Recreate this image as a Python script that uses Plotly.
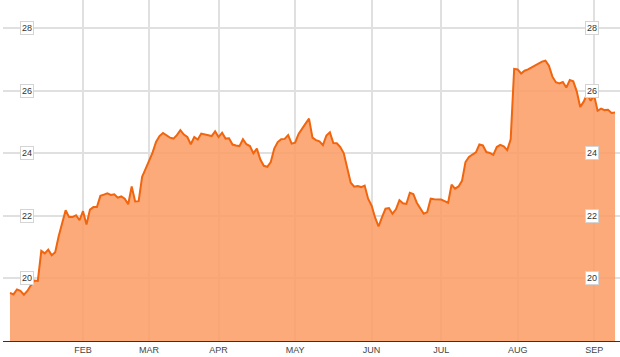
import pandas as pd
import plotly.graph_objects as go

# Trading days, 2 Jan 2013 – 11 Sep 2013 (NYSE holidays removed)
holidays = ["2013-01-21", "2013-02-18", "2013-03-29", "2013-05-27", "2013-07-04", "2013-09-02"]
dates = [d for d in pd.bdate_range("2013-01-02", "2013-09-11") if d.strftime("%Y-%m-%d") not in holidays]

prices = [
    19.54, 19.49, 19.65, 19.60, 19.48, 19.60, 19.78, 19.93, 19.92, 20.88,
    20.80, 20.92, 20.74, 20.84, 21.35, 21.75, 22.18, 21.96, 21.96, 22.02,
    21.86, 22.15, 21.72, 22.20, 22.28, 22.28, 22.64, 22.68, 22.72, 22.67,
    22.69, 22.58, 22.62, 22.55, 22.37, 22.94, 22.46, 22.47, 23.25, 23.50,
    23.75, 24.02, 24.36, 24.55, 24.65, 24.58, 24.50, 24.47, 24.58, 24.74,
    24.60, 24.52, 24.29, 24.52, 24.44, 24.63, 24.60, 24.56, 24.55, 24.70,
    24.52, 24.66, 24.47, 24.48, 24.28, 24.25, 24.23, 24.45, 24.29, 24.23,
    24.00, 24.15, 23.80, 23.60, 23.57, 23.72, 24.15, 24.36, 24.45, 24.46,
    24.58, 24.31, 24.34, 24.62, 24.80, 24.95, 25.11, 24.50, 24.42, 24.38,
    24.26, 24.57, 24.67, 24.33, 24.32, 24.20, 24.00, 23.48, 23.06, 22.93,
    22.95, 22.92, 22.97, 22.55, 22.33, 21.95, 21.66, 21.96, 22.23, 22.25,
    22.07, 22.21, 22.50, 22.40, 22.38, 22.74, 22.70, 22.42, 22.25, 22.07,
    22.12, 22.55, 22.53, 22.52, 22.52, 22.47, 22.42, 23.00, 22.87, 22.94,
    23.12, 23.72, 23.88, 23.96, 24.03, 24.28, 24.25, 24.04, 24.01, 23.95,
    24.20, 24.27, 24.22, 24.10, 24.45, 26.70, 26.68, 26.55, 26.64, 26.68,
    26.74, 26.80, 26.87, 26.93, 26.96, 26.80, 26.45, 26.27, 26.23, 26.28,
    26.10, 26.34, 26.30, 25.98, 25.48, 25.65, 25.90, 25.68, 25.85, 25.36,
    25.43, 25.38, 25.39, 25.29, 25.30,
]

y_ticks = [20, 22, 24, 26, 28]
month_labels = ["FEB", "MAR", "APR", "MAY", "JUN", "JUL", "AUG", "SEP"]

n = min(len(dates), len(prices))
dates = dates[:n]
prices = prices[:n]
xs = list(range(n))

# first trading day of each month from February on
tick_idx = []
seen = set()
for i, d in enumerate(dates):
    if d.month not in seen:
        seen.add(d.month)
        if d.month > 1:
            tick_idx.append(i)
tick_text = [dates[i].strftime("%b").upper() for i in tick_idx]

W, H = 620, 357
ML, MR, MT, MB = 3, 0, 0, 16
x_lo = -2.01
x_hi = 175.44

fig = go.Figure()
fig.add_trace(go.Scatter(
    x=xs, y=prices, mode="lines",
    line=dict(color="#F0650E", width=2),
    fill="tozeroy", fillcolor="rgba(251,155,98,0.85)",
    hoverinfo="skip",
))

pw = W - ML - MR
annots = []
for v in y_ticks:
    for px in (27, 592):
        annots.append(dict(
            x=(px - ML) / pw, xref="paper", y=v, yref="y",
            text=str(v), showarrow=False,
            font=dict(family="Liberation Sans, Arial, sans-serif", size=9, color="#333333"),
            bgcolor="#ffffff", bordercolor="#d4d4d4", borderwidth=1, borderpad=1,
            xanchor="center", yanchor="middle",
        ))

fig.update_layout(
    width=W, height=H,
    margin=dict(l=ML, r=MR, t=MT, b=MB, pad=0),
    paper_bgcolor="#ffffff", plot_bgcolor="#ffffff",
    showlegend=False,
    annotations=annots,
    xaxis=dict(
        range=[x_lo, x_hi], tickvals=tick_idx, ticktext=tick_text,
        showgrid=True, gridcolor="#e0e0e0", gridwidth=2,
        showline=True, linecolor="#333333", linewidth=1,
        ticks="", zeroline=False,
        tickfont=dict(family="Liberation Sans, Arial, sans-serif", size=9, color="#444444"),
        fixedrange=True,
    ),
    yaxis=dict(
        range=[18, 28.9], tickvals=y_ticks, showticklabels=False,
        showgrid=True, gridcolor="#e0e0e0", gridwidth=2,
        zeroline=False, ticks="", fixedrange=True,
    ),
)

fig.write_html("out.html", config={"displayModeBar": False})
